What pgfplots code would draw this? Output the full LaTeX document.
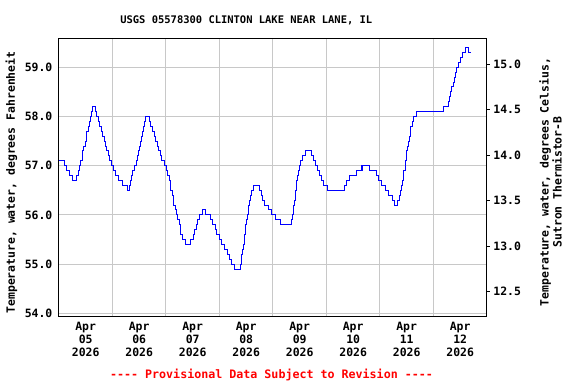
\documentclass[border=0pt]{standalone}
\usepackage{pgfplots}
\pgfplotsset{compat=1.18}
\usepackage{fontspec}
\setmainfont{DejaVu Sans Mono}
\newfontfamily\plainmono{DejaVu Sans Mono}
\definecolor{gridgray}{RGB}{200,200,200}
\definecolor{usgsblue}{RGB}{0,0,255}
\definecolor{usgsred}{RGB}{255,0,0}
\newcommand{\lblfont}{\fontsize{11.5}{12.9}\selectfont\bfseries}
\newcommand{\redfont}{\fontsize{11.7}{13}\selectfont\bfseries}
\newcommand{\ttlfont}{\fontsize{10.5}{12}\selectfont\bfseries}
\begin{document}
\begin{tikzpicture}[x=1bp,y=1bp]
\path[use as bounding box] (0,0) rectangle (576,384);
\begin{axis}[
  at={(58.9bp,68bp)}, anchor=south west,
  scale only axis, width=428bp, height=277bp,
  xmin=0, xmax=8, ymin=53.945, ymax=59.575,
  axis line style={black, line width=1bp},
  xtick={0.5,1.5,2.5,3.5,4.5,5.5,6.5,7.5},
  xticklabels={{Apr\\05\\2026},{Apr\\06\\2026},{Apr\\07\\2026},{Apr\\08\\2026},{Apr\\09\\2026},{Apr\\10\\2026},{Apr\\11\\2026},{Apr\\12\\2026}},
  xticklabel style={align=center, font=\lblfont, yshift=-3bp},
  x tick style={draw=none},
  extra x ticks={1,2,3,4,5,6,7},
  extra x tick labels={},
  extra x tick style={grid=major, major tick length=0pt},
  ytick={54,55,56,57,58,59},
  ymajorgrids,
  y tick style={draw=none},
  yticklabel style={font=\lblfont, xshift=-3bp},
  major grid style={gridgray, line width=1bp},
  /pgf/number format/.cd, fixed, fixed zerofill, precision=1, assume math mode=true,
]
\addplot[const plot, usgsblue, line width=1bp, mark=none] coordinates {
(0.000,57.1)(0.105,57.0)(0.151,56.9)(0.189,56.8)(0.245,56.7)(0.338,56.8)(0.366,56.9)(0.391,57.0)(0.406,57.1)
(0.432,57.2)(0.450,57.3)(0.469,57.4)(0.488,57.5)(0.507,57.6)(0.525,57.7)(0.544,57.8)(0.572,57.9)(0.591,58.0)
(0.609,58.1)(0.624,58.2)(0.688,58.1)(0.712,58.0)(0.731,57.9)(0.759,57.8)(0.787,57.7)(0.815,57.6)(0.843,57.5)
(0.862,57.4)(0.890,57.3)(0.918,57.2)(0.955,57.1)(0.987,57.0)(1.021,56.9)(1.058,56.8)(1.105,56.7)(1.198,56.6)
(1.279,56.5)(1.316,56.6)(1.338,56.7)(1.357,56.8)(1.376,56.9)(1.413,57.0)(1.447,57.1)(1.465,57.2)(1.484,57.3)
(1.503,57.4)(1.521,57.5)(1.540,57.6)(1.559,57.7)(1.578,57.8)(1.596,57.9)(1.615,58.0)(1.690,57.9)(1.721,57.8)
(1.750,57.7)(1.778,57.6)(1.806,57.5)(1.834,57.4)(1.862,57.3)(1.890,57.2)(1.927,57.1)(1.974,57.0)(2.002,56.9)
(2.030,56.8)(2.058,56.7)(2.077,56.6)(2.095,56.5)(2.114,56.4)(2.133,56.3)(2.151,56.2)(2.179,56.1)(2.207,56.0)
(2.226,55.9)(2.245,55.8)(2.264,55.7)(2.282,55.6)(2.301,55.5)(2.357,55.4)(2.460,55.5)(2.507,55.6)(2.535,55.7)
(2.563,55.8)(2.591,55.9)(2.619,56.0)(2.693,56.1)(2.744,56.0)(2.837,55.9)(2.875,55.8)(2.918,55.7)(2.955,55.6)
(2.993,55.5)(3.043,55.4)(3.104,55.3)(3.148,55.2)(3.185,55.1)(3.226,55.0)(3.291,54.9)(3.391,55.0)(3.413,55.1)
(3.422,55.2)(3.432,55.3)(3.447,55.4)(3.460,55.5)(3.473,55.6)(3.484,55.7)(3.497,55.8)(3.510,55.9)(3.521,56.0)
(3.535,56.1)(3.548,56.2)(3.566,56.3)(3.585,56.4)(3.604,56.5)(3.628,56.6)(3.746,56.5)(3.778,56.4)(3.806,56.3)
(3.843,56.2)(3.918,56.1)(3.970,56.0)(4.045,55.9)(4.138,55.8)(4.344,55.9)(4.363,56.0)(4.376,56.1)(4.389,56.2)
(4.400,56.3)(4.413,56.4)(4.426,56.5)(4.437,56.6)(4.450,56.7)(4.464,56.8)(4.475,56.9)(4.488,57.0)(4.512,57.1)
(4.544,57.2)(4.605,57.3)(4.725,57.2)(4.755,57.1)(4.793,57.0)(4.834,56.9)(4.871,56.8)(4.909,56.7)(4.955,56.6)
(5.017,56.5)(5.335,56.6)(5.376,56.7)(5.428,56.8)(5.566,56.9)(5.647,57.0)(5.660,56.9)(5.668,57.0)(5.675,56.9)(5.682,57.0)
(5.802,56.9)(5.940,56.8)(5.983,56.7)(6.034,56.6)(6.096,56.5)(6.157,56.4)(6.232,56.3)(6.282,56.2)(6.325,56.3)
(6.357,56.4)(6.389,56.5)(6.407,56.6)(6.422,56.7)(6.437,56.8)(6.450,56.9)(6.469,57.0)(6.475,57.1)(6.488,57.2)
(6.501,57.3)(6.520,57.4)(6.531,57.5)(6.544,57.6)(6.563,57.7)(6.581,57.8)(6.606,57.9)(6.637,58.0)(6.675,58.1)
(7.185,58.2)(7.279,58.3)(7.301,58.4)(7.320,58.5)(7.342,58.6)(7.367,58.7)(7.385,58.8)(7.410,58.9)(7.436,59.0)
(7.461,59.1)(7.508,59.2)(7.549,59.3)(7.591,59.4)(7.652,59.3)(7.703,59.3)
};
\end{axis}
\begin{axis}[
  at={(58.9bp,68bp)}, anchor=south west,
  scale only axis, width=428bp, height=277bp,
  xmin=0, xmax=8, ymin=12.233, ymax=15.278,
  axis x line=none,
  axis y line*=right,
  axis line style={black, line width=1bp},
  ytick={12.5,13.0,13.5,14.0,14.5,15.0},
  y tick style={black, line width=1bp},
  tick align=outside, major tick length=3bp,
  yticklabel style={font=\lblfont},
  /pgf/number format/.cd, fixed, fixed zerofill, precision=1, assume math mode=true,
]
\addplot[draw=none] coordinates {(0,13)};
\end{axis}
\node[font=\ttlfont] at (246.3,363.5) {USGS 05578300 CLINTON LAKE NEAR LANE, IL};
\node[font=\lblfont, rotate=90] at (11.5,201.5) {Temperature, water, degrees Fahrenheit};
\node[font=\lblfont, rotate=90, align=center] at (550.5,202) {Temperature, water, degrees Celsius,\\Sutron Thermistor-B};
\node[font=\plainmono\redfont, text=usgsred] at (271.5,9) {---- Provisional Data Subject to Revision ----};
\end{tikzpicture}
\end{document}
